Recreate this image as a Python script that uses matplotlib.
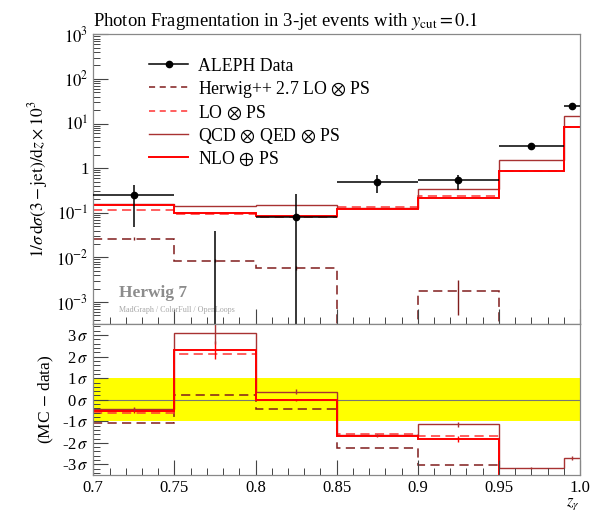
import numpy as np
import matplotlib
matplotlib.use('Agg')
import matplotlib.pyplot as plt
from matplotlib.ticker import FixedLocator, FixedFormatter, MultipleLocator, LogLocator, NullFormatter

plt.rcParams['font.family'] = ['Liberation Serif', 'DejaVu Serif']
plt.rcParams['mathtext.fontset'] = 'stix'

# bin edges in z_gamma
edges = [0.70, 0.75, 0.80, 0.85, 0.90, 0.95, 0.99, 1.00]

# ALEPH data (upper panel)
data_x = [0.725, 0.775, 0.825, 0.875, 0.925, 0.970, 0.995]
data_y = [0.253, 1e-4, 0.081, 0.49, 0.547, 3.2, 24.4]
data_lo = [0.048, 1e-6, 1e-6, 0.276, 0.33, 3.0, 23.0]
data_hi = [0.42, 0.04, 0.27, 0.71, 0.71, 3.4, 26.0]

# MC predictions (upper panel)
herwig_pp = [0.026, 0.0085, 0.0058, 0.0, 0.0018, 0.0, 0.0]
herwig_pp_err = [0.002, 0.0008, 0.0005, 0.0, 0.0013, 0.0, 0.0]
lo_ps = [0.113, 0.092, 0.080, 0.135, 0.24, 0.88, 8.5]
qcd_qed = [0.160, 0.144, 0.152, 0.128, 0.34, 1.51, 15.1]
nlo_ps = [0.149, 0.100, 0.086, 0.120, 0.21, 0.88, 8.5]

# (MC - data)/sigma (lower panel)
herwig_pp_dev = [-1.09, 0.22, -0.45, -2.24, -3.03, -8.0, -8.0]
lo_ps_dev = [-0.60, 2.12, 0.00, -1.57, -1.70, -8.0, -8.0]
qcd_qed_dev = [-0.42, 3.12, 0.38, -1.62, -1.14, -3.17, -2.71]
nlo_ps_dev = [-0.50, 2.30, -0.02, -1.68, -1.82, -8.0, -8.0]
nlo_ps_dev_err = [0.12, 0.42, 0.05, 0.05, 0.12, 0.0, 0.0]
qcd_qed_dev_err = [0.08, 0.55, 0.1, 0.05, 0.12, 0.03, 0.1]

upper_ticks = [1e-3, 1e-2, 1e-1, 1, 1e1, 1e2, 1e3]
upper_tick_labels = ['$10^{-3}$', '$10^{-2}$', '$10^{-1}$', '1', '$10^{1}$', '$10^{2}$', '$10^{3}$']
lower_ticks = [-3, -2, -1, 0, 1, 2, 3]
lower_tick_labels = ['-3$\\,\\sigma$', '-2$\\,\\sigma$', '-1$\\,\\sigma$', '0$\\,\\sigma$',
                     '1$\\,\\sigma$', '2$\\,\\sigma$', '3$\\,\\sigma$']
x_ticks = [0.7, 0.75, 0.8, 0.85, 0.9, 0.95, 1.0]
x_tick_labels = ['0.7', '0.75', '0.8', '0.85', '0.9', '0.95', '1.0']

c_herwig = '#801c1c'
c_lo = '#FF3333'
c_qcd = '#A83232'
c_nlo = '#FF0000'

edges = np.array(edges)
centers = 0.5 * (edges[1:] + edges[:-1])
floor = 1e-6

fig = plt.figure(figsize=(6.07, 5.17), dpi=100)
ax = fig.add_axes([0.1537, 0.3727, 0.8018, 0.561])
axr = fig.add_axes([0.1537, 0.0809, 0.8018, 0.2918], sharex=ax)

# upper panel
ax.set_yscale('log')
ax.stairs(np.where(np.array(herwig_pp) > 0, herwig_pp, floor), edges, baseline=None,
          color=c_herwig, lw=1.1, linestyle=(0, (6, 3.5)), label='Herwig++ 2.7 LO $\\otimes$ PS')
ax.stairs(lo_ps, edges, baseline=None, color=c_lo, lw=1.1, linestyle=(0, (6, 3.5)),
          label='LO $\\otimes$ PS')
ax.stairs(qcd_qed, edges, baseline=None, color=c_qcd, lw=1.0, label='QCD $\\otimes$ QED $\\otimes$ PS')
ax.stairs(nlo_ps, edges, baseline=None, color=c_nlo, lw=1.4, label='NLO $\\oplus$ PS')

hw = np.array(herwig_pp)
hwe = np.array(herwig_pp_err)
mask = hw > 0
ax.errorbar(centers[mask], hw[mask], yerr=[np.minimum(hwe[mask], hw[mask] - floor), hwe[mask]],
            fmt='none', ecolor=c_herwig, elinewidth=1.0)

dy = np.array(data_y)
ax.errorbar(data_x, data_y,
            yerr=[dy - np.array(data_lo), np.array(data_hi) - dy],
            xerr=[np.array(data_x) - edges[:-1], edges[1:] - np.array(data_x)],
            fmt='o', color='black', ms=4.5, elinewidth=1.1, capsize=0, zorder=5)

ax.set_xlim(0.7, 1.0)
ax.set_ylim(10 ** -3.5, 1e3)
ax.yaxis.set_major_locator(FixedLocator(upper_ticks))
ax.yaxis.set_major_formatter(FixedFormatter(upper_tick_labels))
ax.yaxis.set_minor_locator(LogLocator(base=10, subs=np.arange(2, 10), numticks=20))
ax.yaxis.set_minor_formatter(NullFormatter())
ax.set_ylabel('$1/\\sigma\\,\\mathrm{d}\\sigma(3-\\mathrm{jet})/\\mathrm{d}z \\times 10^{3}$', fontsize=12.5)
ax.set_title('Photon Fragmentation in 3-jet events with $y_{\\mathrm{cut}} = 0.1$',
             loc='left', fontsize=13.4, pad=6)
plt.setp(ax.get_xticklabels(), visible=False)

ax.text(0.052, 0.108, 'Herwig 7', transform=ax.transAxes, fontsize=12.5, fontweight='bold',
        color='#8c8c8c', va='center')
ax.text(0.052, 0.05, 'MadGraph / ColorFull / OpenLoops', transform=ax.transAxes, fontsize=5.8,
        color='#a8a8a8', va='center')

handles = [plt.Line2D([], [], color='black', marker='o', ms=4.5, lw=1.1)]
h, l = ax.get_legend_handles_labels()
handles += [plt.Line2D([], [], color=c_herwig, lw=1.1, linestyle=(0, (4, 3))),
            plt.Line2D([], [], color=c_lo, lw=1.1, linestyle=(0, (4, 3))),
            plt.Line2D([], [], color=c_qcd, lw=1.0),
            plt.Line2D([], [], color=c_nlo, lw=1.4)]
labels = ['ALEPH Data'] + l
ax.legend(handles, labels, loc='upper left', bbox_to_anchor=(0.1, 0.944), frameon=False,
          fontsize=12.8, handlelength=2.2, handletextpad=0.55, labelspacing=0.22, borderaxespad=0)

# lower panel
axr.axhspan(-1, 1, color='#FFFF00', lw=0, zorder=0)
axr.axhline(0, color='#777777', lw=0.8, zorder=1)
axr.stairs(herwig_pp_dev, edges, baseline=None, color=c_herwig, lw=1.1, linestyle=(0, (6, 3.5)))
axr.stairs(lo_ps_dev, edges, baseline=None, color=c_lo, lw=1.1, linestyle=(0, (6, 3.5)))
axr.stairs(qcd_qed_dev, edges, baseline=None, color=c_qcd, lw=1.0)
axr.stairs(nlo_ps_dev, edges, baseline=None, color=c_nlo, lw=1.4)
axr.errorbar(centers, nlo_ps_dev, yerr=nlo_ps_dev_err, fmt='none', ecolor=c_nlo, elinewidth=1.0)
axr.errorbar(centers, qcd_qed_dev, yerr=qcd_qed_dev_err, fmt='none', ecolor=c_qcd, elinewidth=1.0)

axr.set_ylim(-3.5, 3.5)
axr.yaxis.set_major_locator(FixedLocator(lower_ticks))
axr.yaxis.set_major_formatter(FixedFormatter(lower_tick_labels))
axr.yaxis.set_minor_locator(MultipleLocator(0.2))
axr.set_ylabel('(MC $-$ data)', fontsize=12.5)
axr.xaxis.set_major_locator(FixedLocator(x_ticks))
axr.xaxis.set_major_formatter(FixedFormatter(x_tick_labels))
axr.xaxis.set_minor_locator(MultipleLocator(0.01))
axr.set_xlabel('$z_{\\gamma}$', fontsize=12, loc='right', labelpad=0)

for a in (ax, axr):
    a.tick_params(which='both', direction='in', top=False, right=False, colors='#444444',
                  labelcolor='black', labelsize=12)
    a.tick_params(which='major', length=11, width=0.8)
    a.tick_params(which='minor', length=5, width=0.7)
    for s in a.spines.values():
        s.set_color('#888888')
        s.set_linewidth(0.9)

fig.savefig('out.png', dpi=100)
